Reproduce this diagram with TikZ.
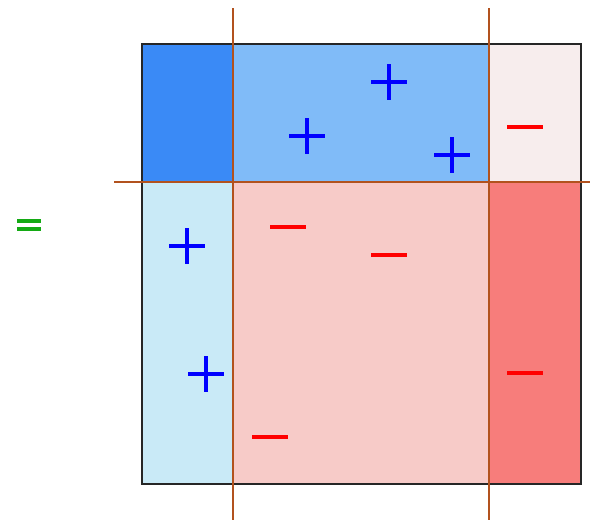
\documentclass[tikz,border=0pt]{standalone}
\usepackage{xcolor}
\usepackage{tikz}
\definecolor{deepblue}{RGB}{58, 138, 246}
\definecolor{midblue}{RGB}{128, 187, 248}
\definecolor{paleblue}{RGB}{201, 234, 247}
\definecolor{palepink}{RGB}{247, 237, 237}
\definecolor{midpink}{RGB}{247, 203, 200}
\definecolor{deeppink}{RGB}{247, 125, 123}
\definecolor{cutcolor}{RGB}{178, 82, 30}
\definecolor{eqcolor}{RGB}{20, 170, 20}

\begin{document}
\begin{tikzpicture}[x=1pt, y=-1pt,
    frame/.style={draw=black!85, line width=1.6pt},
    cut/.style={draw=cutcolor, line width=1.4pt},
    plussign/.style={blue, line width=3.6pt},
    minussign/.style={red, line width=3.6pt},
    eqsign/.style={eqcolor, line width=3.4pt}
]
    \useasboundingbox (0, 0) rectangle (590, 520);

    % Corners and cuts
    \coordinate (nw) at (142, 44);
    \coordinate (se) at (581, 484);
    \coordinate (c1) at (233, 182);
    \coordinate (c2) at (489, 182);

    % Cells
    \fill[deepblue] (nw) rectangle (c1);
    \fill[midblue] (233, 44) rectangle (c2);
    \fill[palepink] (489, 44) rectangle (581, 182);
    \fill[paleblue] (142, 182) rectangle (233, 484);
    \fill[midpink] (c1) rectangle (489, 484);
    \fill[deeppink] (c2) rectangle (se);

    % Frame
    \draw[frame] (nw) rectangle (se);

    % Cut lines
    \coordinate (v1top) at (233, 8);
    \coordinate (v1bot) at (233, 520);
    \coordinate (v2top) at (489, 8);
    \coordinate (v2bot) at (489, 520);
    \coordinate (hleft) at (114, 182);
    \coordinate (hright) at (590, 182);
    \draw[cut] (v1top) -- (v1bot);
    \draw[cut] (v2top) -- (v2bot);
    \draw[cut] (hleft) -- (hright);

    % Equals sign
    \draw[eqsign] (17, 221) -- (41, 221) (17, 229) -- (41, 229);

    % Plus signs
    \foreach \x/\y in {389/82, 307/136, 452/155, 187/246, 206/374}
        \draw[plussign] (\x-18, \y) -- (\x+18, \y) (\x, \y-18) -- (\x, \y+18);

    % Minus signs
    \foreach \x/\y in {525/127, 288/227, 389/255, 525/373, 270/437}
        \draw[minussign] (\x-18, \y) -- (\x+18, \y);
\end{tikzpicture}
\end{document}
